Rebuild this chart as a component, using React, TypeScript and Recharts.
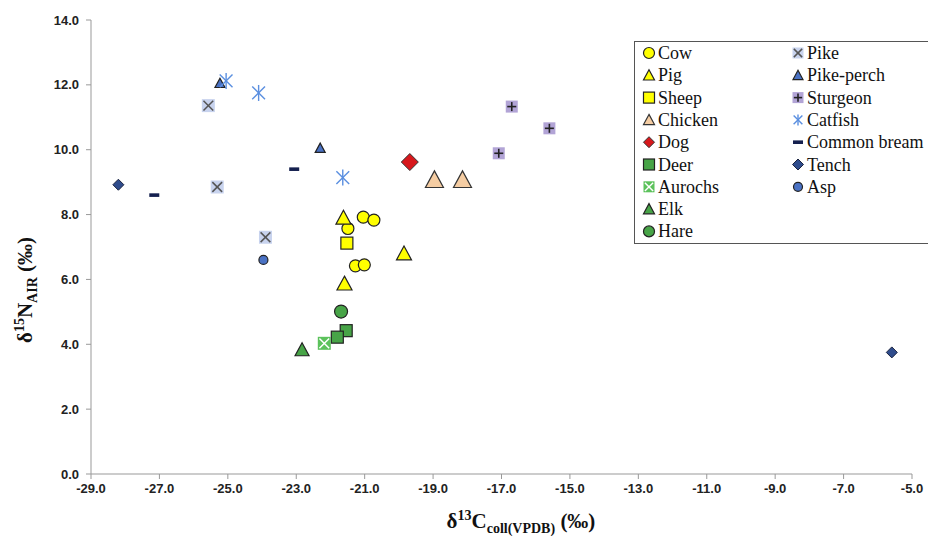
import React from "react";
import { ScatterChart, Scatter, XAxis, YAxis } from "recharts";

// δ13C (x), δ15N (y) pairs per taxon
const cow = [[-21.04, 7.92], [-20.73, 7.83], [-21.49, 7.57], [-21.27, 6.42], [-21.01, 6.45]];
const pig = [[-21.62, 7.9], [-19.85, 6.8], [-21.59, 5.87]];
const sheep = [[-21.52, 7.12]];
const chicken = [[-18.96, 9.07], [-18.14, 9.07]];
const dog = [[-19.68, 9.62]];
const deer = [[-21.54, 4.42], [-21.8, 4.22]];
const aurochs = [[-22.18, 4.03]];
const elk = [[-22.83, 3.83]];
const hare = [[-21.69, 5.01]];
const pike = [[-25.57, 11.36], [-25.31, 8.85], [-23.9, 7.3]];
const pikePerch = [[-25.23, 12.05], [-22.3, 10.05]];
const sturgeon = [[-16.7, 11.33], [-15.6, 10.66], [-17.08, 9.89]];
const catfish = [[-25.05, 12.12], [-24.1, 11.75], [-21.64, 9.14]];
const commonBream = [[-27.15, 8.6], [-23.06, 9.4]];
const tench = [[-28.2, 8.92], [-5.59, 3.75]];
const asp = [[-23.96, 6.6]];

const xTicks = [-29, -27, -25, -23, -21, -19, -17, -15, -13, -11, -9, -7, -5];
const yTicks = [0, 2, 4, 6, 8, 10, 12, 14];

type Kind = "circle" | "triangle" | "square" | "diamond" | "xsquare" | "plus" | "star" | "dash";

interface Spec {
  name: string;
  data: number[][];
  kind: Kind;
  fill: string;
  stroke: string;
  size: number;
  mark?: string;
}

const species: Spec[] = [
  { name: "Cow", data: cow, kind: "circle", fill: "#ffff00", stroke: "#222", size: 12 },
  { name: "Pig", data: pig, kind: "triangle", fill: "#ffff00", stroke: "#222", size: 15 },
  { name: "Sheep", data: sheep, kind: "square", fill: "#ffff00", stroke: "#222", size: 12 },
  { name: "Chicken", data: chicken, kind: "triangle", fill: "#f5cda3", stroke: "#333", size: 18 },
  { name: "Dog", data: dog, kind: "diamond", fill: "#d7181c", stroke: "#333", size: 17 },
  { name: "Deer", data: deer, kind: "square", fill: "#47a447", stroke: "#222", size: 12 },
  { name: "Aurochs", data: aurochs, kind: "xsquare", fill: "#5cc25c", stroke: "#5cc25c", size: 13, mark: "#ffffff" },
  { name: "Elk", data: elk, kind: "triangle", fill: "#47a447", stroke: "#222", size: 14 },
  { name: "Hare", data: hare, kind: "circle", fill: "#47a447", stroke: "#222", size: 13 },
  { name: "Pike", data: pike, kind: "xsquare", fill: "#c8d3ee", stroke: "#c8d3ee", size: 13, mark: "#555" },
  { name: "Pike-perch", data: pikePerch, kind: "triangle", fill: "#4a72c4", stroke: "#222", size: 10 },
  { name: "Sturgeon", data: sturgeon, kind: "plus", fill: "#b2a4d6", stroke: "#b2a4d6", size: 12, mark: "#222" },
  { name: "Catfish", data: catfish, kind: "star", fill: "none", stroke: "#5b8fe0", size: 16 },
  { name: "Common bream", data: commonBream, kind: "dash", fill: "#15204f", stroke: "#15204f", size: 10 },
  { name: "Tench", data: tench, kind: "diamond", fill: "#2f4c8c", stroke: "#1b2440", size: 11 },
  { name: "Asp", data: asp, kind: "circle", fill: "#4a72c4", stroke: "#222", size: 9 },
];

const Marker = ({ sp, cx, cy, s }: { sp: Spec; cx: number; cy: number; s: number }) => {
  const h = s / 2;
  switch (sp.kind) {
    case "circle":
      return <circle cx={cx} cy={cy} r={h} fill={sp.fill} stroke={sp.stroke} strokeWidth={1.2} />;
    case "square":
      return <rect x={cx - h} y={cy - h} width={s} height={s} fill={sp.fill} stroke={sp.stroke} strokeWidth={1.2} />;
    case "triangle":
      return (
        <polygon
          points={`${cx},${cy - h} ${cx + h},${cy + h * 0.85} ${cx - h},${cy + h * 0.85}`}
          fill={sp.fill}
          stroke={sp.stroke}
          strokeWidth={1.2}
        />
      );
    case "diamond":
      return (
        <polygon
          points={`${cx},${cy - h} ${cx + h},${cy} ${cx},${cy + h} ${cx - h},${cy}`}
          fill={sp.fill}
          stroke={sp.stroke}
          strokeWidth={1}
        />
      );
    case "xsquare": {
      const d = h * 0.75;
      return (
        <g>
          <rect x={cx - h} y={cy - h} width={s} height={s} fill={sp.fill} />
          <line x1={cx - d} y1={cy - d} x2={cx + d} y2={cy + d} stroke={sp.mark} strokeWidth={1.5} />
          <line x1={cx - d} y1={cy + d} x2={cx + d} y2={cy - d} stroke={sp.mark} strokeWidth={1.5} />
        </g>
      );
    }
    case "plus": {
      const d = h * 0.75;
      return (
        <g>
          <rect x={cx - h} y={cy - h} width={s} height={s} fill={sp.fill} />
          <line x1={cx - d} y1={cy} x2={cx + d} y2={cy} stroke={sp.mark} strokeWidth={1.6} />
          <line x1={cx} y1={cy - d} x2={cx} y2={cy + d} stroke={sp.mark} strokeWidth={1.6} />
        </g>
      );
    }
    case "star": {
      const d = h * 0.8;
      return (
        <g stroke={sp.stroke} strokeWidth={1.4}>
          <line x1={cx - d} y1={cy - d} x2={cx + d} y2={cy + d} />
          <line x1={cx - d} y1={cy + d} x2={cx + d} y2={cy - d} />
          <line x1={cx} y1={cy - h} x2={cx} y2={cy + h} />
        </g>
      );
    }
    case "dash":
      return <rect x={cx - h} y={cy - 1.8} width={s} height={3.6} fill={sp.fill} />;
  }
  return null;
};

const tickStyle = { fill: "#222", fontSize: 13, fontFamily: "Liberation Sans", fontWeight: 600 };
const serif = "'Liberation Serif', 'Times New Roman', 'DejaVu Serif', serif";

const XTitle = () => (
  <text x={521} y={528} textAnchor="middle" style={{ fontFamily: serif }} fontWeight="bold" fontSize={21} fill="#111">
    δ<tspan dy={-8} fontSize={14}>13</tspan>
    <tspan dy={8}>C</tspan>
    <tspan dy={5} fontSize={14}>coll(VPDB)</tspan>
    <tspan dy={-5}> (‰)</tspan>
  </text>
);

const YTitle = () => (
  <text
    transform="translate(32,290) rotate(-90)"
    x={0}
    y={0}
    textAnchor="middle"
    style={{ fontFamily: serif }}
    fontWeight="bold"
    fontSize={21}
    fill="#111"
  >
    δ<tspan dy={-8} fontSize={14}>15</tspan>
    <tspan dy={8}>N</tspan>
    <tspan dy={5} fontSize={14}>AIR</tspan>
    <tspan dy={-5}> (‰)</tspan>
  </text>
);

const LegendBox = () => {
  const rowH = 22.3;
  const half = 9;
  return (
    <svg width={300} height={204} style={{ position: "absolute", left: 634, top: 41 }}>
      <rect x={0.5} y={0.5} width={310} height={202} fill="#fff" stroke="#555" strokeWidth={1} />
      {species.map((sp, i) => {
        const col = i < half ? 0 : 1;
        const row = i < half ? i : i - half;
        const cy = 12 + row * rowH;
        const ix = col === 0 ? 15 : 164;
        return (
          <g key={sp.name}>
            <Marker sp={sp} cx={ix} cy={cy} s={Math.min(sp.size, 11)} />
            <text x={ix + 9} y={cy + 6} style={{ fontFamily: serif }} fontSize={18} fill="#111">
              {sp.name}
            </text>
          </g>
        );
      })}
    </svg>
  );
};

export default function App() {
  return (
    <div
      style={{
        position: "absolute",
        left: 0,
        top: 0,
        width: 928,
        height: 536,
        overflow: "hidden",
        background: "#fff",
      }}
    >
      <ScatterChart width={928} height={536} margin={{ top: 20, right: 16, bottom: 0, left: 0 }}>
        <XAxis
          type="number"
          dataKey="x"
          domain={[-29, -5]}
          ticks={xTicks}
          tickFormatter={(v: number) => v.toFixed(1)}
          tick={tickStyle}
          tickSize={5}
          tickMargin={5}
          height={62}
          stroke="#999"
          allowDataOverflow
          label={{ content: () => <XTitle /> }}
        />
        <YAxis
          type="number"
          dataKey="y"
          domain={[0, 14]}
          ticks={yTicks}
          tickFormatter={(v: number) => v.toFixed(1)}
          tick={tickStyle}
          tickSize={5}
          tickMargin={7}
          width={91}
          stroke="#999"
          allowDataOverflow
          label={{ content: () => <YTitle /> }}
        />
        {species.map((sp) => (
          <Scatter
            key={sp.name}
            name={sp.name}
            data={sp.data.map(([x, y]) => ({ x, y }))}
            isAnimationActive={false}
            shape={(p: any) => <Marker sp={sp} cx={p.cx} cy={p.cy} s={sp.size} />}
          />
        ))}
      </ScatterChart>
      <LegendBox />
    </div>
  );
}
